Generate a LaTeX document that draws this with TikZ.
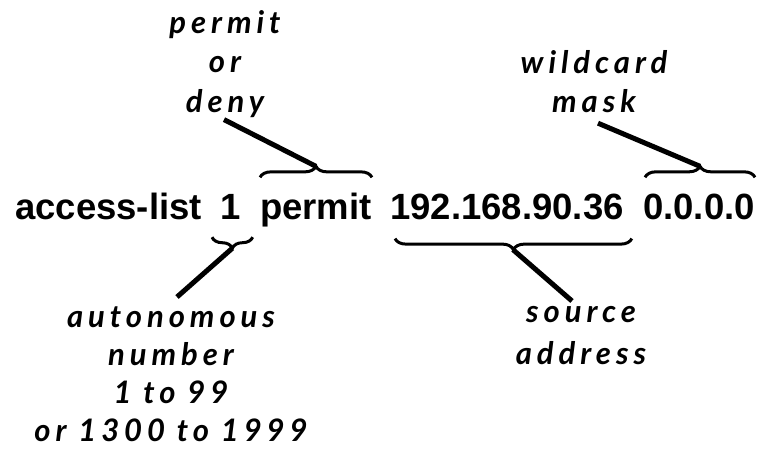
\documentclass[tikz,border=0pt]{standalone}
\usepackage{fontspec}
\setmainfont{Liberation Sans}
\newfontfamily\maofont[LetterSpace=16]{Lato}
\usepackage{tikz}
\usetikzlibrary{decorations.pathreplacing}
\usetikzlibrary{positioning}
\tikzset{
  palavra/.style={anchor=base west, inner sep=0pt, font=\fontsize{36.5}{40}\selectfont\bfseries},
  nota/.style={align=center, inner sep=0pt, font=\fontsize{31}{#1}\selectfont\maofont\bfseries\itshape},
  nota/.default=39.5,
  chave/.style={decorate, decoration={brace, amplitude=11pt, #1}, line width=3pt},
  chave/.default={},
  traco/.style={line width=5pt},
}
\begin{document}
\begin{tikzpicture}[x=1pt, y=-1pt]
  \useasboundingbox (0,0) rectangle (762,450);
  \node[palavra] (acl) at (15,219) {access-list};
  \node[palavra] (num) at (220,219) {1};
  \node[palavra] (perm) at (260,219) {permit};
  \node[palavra] (ip) at (390,219) {192.168.90.36};
  \node[palavra] (mask) at (643,219) {0.0.0.0};
  \node[nota, anchor=north] (pod) at (225,10) {permit\\or\\deny};
  \node[nota, anchor=north] (wm) at (594,50) {wildcard\\mask};
  \node[nota=37.7, anchor=north] (an) at (171,307) {autonomous\\number\\1 to 99\\or 1300 to 1999};
  \node[nota=42, anchor=north] (sa) at (581,306) {source\\address};
  \draw[chave] ([yshift=15pt]perm.north west) -- ([yshift=15pt]perm.north east);
  \draw[chave] ([xshift=2pt,yshift=16pt]mask.north west) -- ([yshift=16pt]mask.north east);
  \draw[chave=mirror] ([xshift=-8pt,yshift=-18pt]num.south west) -- ([xshift=12pt,yshift=-18pt]num.south east);
  \draw[chave=mirror] ([xshift=5pt,yshift=-19pt]ip.south west) -- ([xshift=8pt,yshift=-19pt]ip.south east);
  \coordinate (tp) at ([yshift=26pt]perm.north);
  \coordinate (tm) at ([xshift=1pt,yshift=27pt]mask.north);
  \coordinate (tn) at ([xshift=2pt,yshift=-29pt]num.south);
  \coordinate (ti) at ([xshift=6pt,yshift=-30pt]ip.south);
  \draw[traco] (tp) -- ([xshift=-1pt,yshift=-2pt]pod.south);
  \draw[traco] (tm) -- ([xshift=4pt,yshift=-10pt]wm.south);
  \draw[traco] (tn) -- ([xshift=6pt,yshift=10pt]an.north);
  \draw[traco] (ti) -- ([xshift=-9pt,yshift=5pt]sa.north);
\end{tikzpicture}
\end{document}
